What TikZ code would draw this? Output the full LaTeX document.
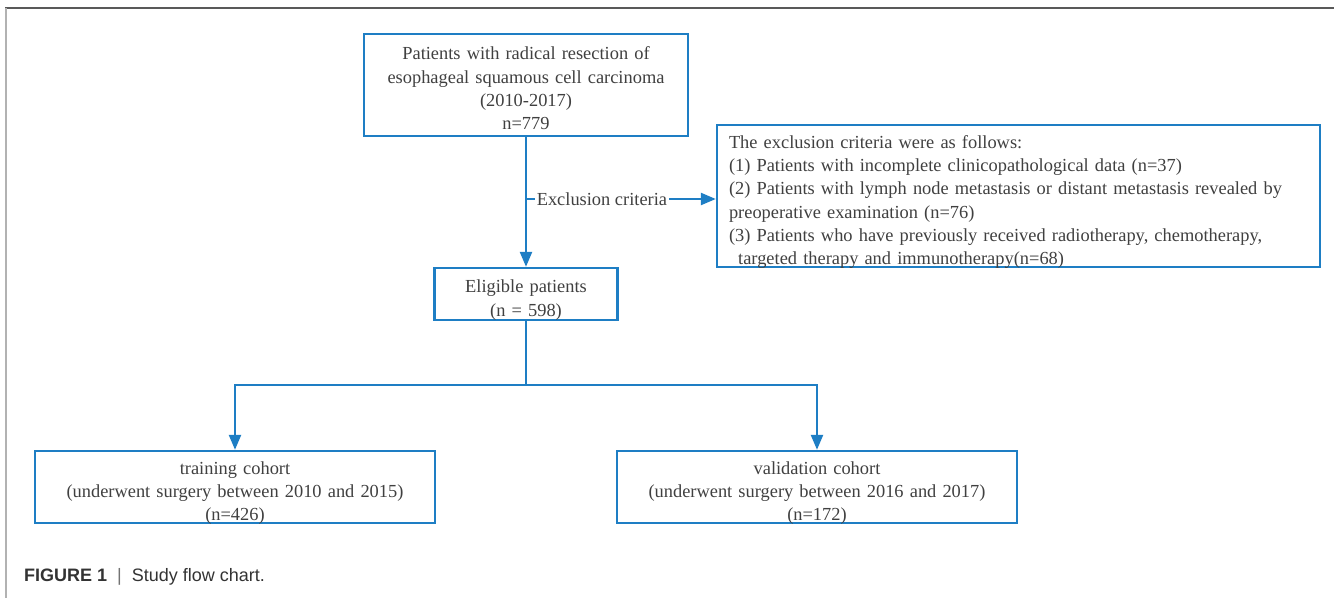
\documentclass[tikz,border=0pt]{standalone}
\usepackage{fontspec}
\setmainfont{Liberation Serif}
\setsansfont{Liberation Sans}
\usepackage{tikz}
\usetikzlibrary{arrows.meta, positioning}
\definecolor{flowblue}{RGB}{30,126,196}
\definecolor{textgrey}{RGB}{64,64,64}
\tikzstyle{line} = [draw=flowblue, line width=2.4pt]
\tikzstyle{arrow} = [line, -{Triangle[length=15pt,width=12pt]}]

\begin{document}
\begin{tikzpicture}[x=1pt, y=-1pt,
          font = \fontsize{18.4}{23.3}\selectfont, % text size of the boxes
          text = textgrey
      ]

      \tikzstyle{box}=[
          draw = flowblue,
          line width = 2.4pt,
          fill = white,
          align = center,
          inner sep = 0pt
      ]
      \tikzstyle{lower}=[execute at end node={\endgraf\kern-#1}] % text sits low in the box
  \useasboundingbox (0,0) rectangle (1334,598);

  % Frame of the figure.
  \draw[black!65, line width=2.2pt] (5,8) -- (1334,8);
  \draw[black!30, line width=1.5pt] (6,8) -- (6,598);

  % Draw the boxes.
  \node[box, lower=7pt, text width=310pt, minimum width=324pt, minimum height=102pt] (cohort) at (526,85)
      {Patients with radical resection of\\esophageal squamous cell carcinoma\\(2010-2017)\\n=779};

  \node[box, lower=12pt, text width=170pt, minimum width=183pt, minimum height=52pt] (elig) at (526,294)
      {Eligible patients\\(n = 598)};

  \node[box, lower=12pt, align=left, text width=579pt, inner xsep=12pt, minimum height=142pt] (crit) at (1018.5,196)
      {The exclusion criteria were as follows:\\
       (1) Patients with incomplete clinicopathological data (n=37)\\
       (2) Patients with lymph node metastasis or distant metastasis revealed by\\
       preoperative examination (n=76)\\
       (3) Patients who have previously received radiotherapy, chemotherapy,\\
       \hspace*{0.5em}targeted therapy and immunotherapy(n=68)};

  \node[box, lower=12pt, text width=380pt, minimum width=400pt, minimum height=72pt] (train) at (235,487)
      {training cohort\\(underwent surgery between 2010 and 2015)\\(n=426)};
  \node[box, lower=12pt, text width=380pt, minimum width=400pt, minimum height=72pt] (valid) at (817,487)
      {validation cohort\\(underwent surgery between 2016 and 2017)\\(n=172)};

  \coordinate (split) at (526,199);
  \coordinate (fork) at (526,385);

  % Connect boxes with arrows.
  \draw[arrow] (cohort) -- (elig);
  \draw[arrow] (split) -- node[pos=0.4, fill=white, inner sep=2pt] (excl) {Exclusion criteria} (split -| crit.west);

  \draw[line] (elig.south) -- (fork);
  \draw[arrow] (fork) -| (train.north);
  \draw[arrow] (fork) -| (valid.north);

  % Caption.
  \node[anchor=base west, inner sep=0pt, text=black!80,
        font=\sffamily\fontsize{18}{20}\selectfont] (caption) at (24,581)
      {\textbf{FIGURE 1}\hspace{10pt}{\color{black!55}|}\hspace{10pt}Study flow chart.};
\end{tikzpicture}
\end{document}
